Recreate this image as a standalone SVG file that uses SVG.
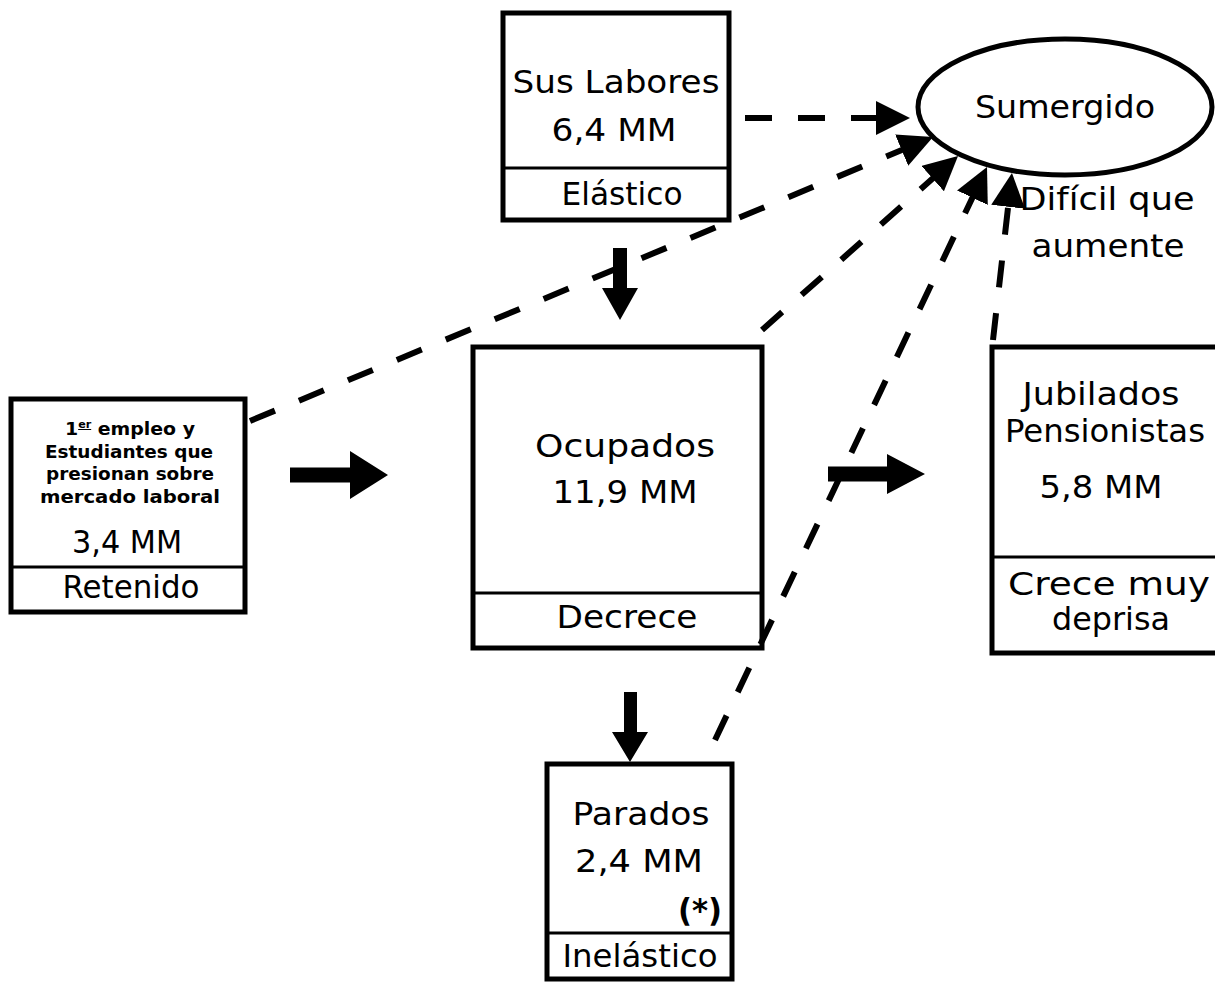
<svg xmlns="http://www.w3.org/2000/svg" width="1215" height="982" viewBox="0 0 1215 982">
<style>
.box{fill:#fff;stroke:#000;stroke-width:5}
.div{stroke:#000;stroke-width:3;fill:none}
.t{font-family:"DejaVu Sans","Liberation Sans",sans-serif;font-size:32px;fill:#000;text-anchor:middle}
.sm{font-family:"DejaVu Sans","Liberation Sans",sans-serif;font-size:17px;font-weight:bold;fill:#000;text-anchor:middle}
.dash{stroke:#000;stroke-width:6;fill:none;stroke-dasharray:27 26}
.solid{fill:#000}
</style>
<defs>
<marker id="ah" markerUnits="userSpaceOnUse" viewBox="0 0 34 34" refX="6" refY="17" markerWidth="34" markerHeight="34" orient="auto">
<path d="M0,0 L34,17 L0,34 z" fill="#000"/>
</marker>
</defs>
<rect width="1215" height="982" fill="#fff"/>

<g id="retenido">
<rect class="box" x="11" y="399" width="234" height="213"/>
<line class="div" x1="11" y1="567" x2="245" y2="567"/>
<text class="sm" x="130" y="435" textLength="130" lengthAdjust="spacingAndGlyphs">1<tspan font-size="10" dy="-7" text-decoration="underline">er</tspan><tspan dy="7"> empleo y</tspan></text>
<text class="sm" x="129" y="458" textLength="168" lengthAdjust="spacingAndGlyphs">Estudiantes que</text>
<text class="sm" x="130" y="480" textLength="168" lengthAdjust="spacingAndGlyphs">presionan sobre</text>
<text class="sm" x="130" y="503" textLength="180" lengthAdjust="spacingAndGlyphs">mercado laboral</text>
<text class="t" x="127" y="553" textLength="110" lengthAdjust="spacingAndGlyphs">3,4 MM</text>
<text class="t" x="131" y="598" font-size="29" textLength="137" lengthAdjust="spacingAndGlyphs">Retenido</text>
</g>

<g id="sus-labores">
<rect class="box" x="503" y="13" width="226" height="207"/>
<line class="div" x1="503" y1="168" x2="729" y2="168"/>
<text class="t" x="616" y="93" textLength="207" lengthAdjust="spacingAndGlyphs">Sus Labores</text>
<text class="t" x="614" y="141" textLength="125" lengthAdjust="spacingAndGlyphs">6,4 MM</text>
<text class="t" x="622" y="205" textLength="121" lengthAdjust="spacingAndGlyphs">Elástico</text>
</g>

<g id="sumergido">
<ellipse cx="1065" cy="107" rx="147" ry="68" fill="#fff" stroke="#000" stroke-width="5"/>
<text class="t" x="1065" y="118" textLength="180" lengthAdjust="spacingAndGlyphs">Sumergido</text>
<text class="t" x="1107" y="210" textLength="175" lengthAdjust="spacingAndGlyphs">Difícil que</text>
<text class="t" x="1108" y="257" textLength="153" lengthAdjust="spacingAndGlyphs">aumente</text>
</g>

<g id="ocupados">
<rect class="box" x="473" y="347" width="289" height="301" stroke-width="4.5"/>
<line class="div" x1="473" y1="593" x2="762" y2="593"/>
<text class="t" x="625" y="457" textLength="180" lengthAdjust="spacingAndGlyphs">Ocupados</text>
<text class="t" x="625" y="503" textLength="145" lengthAdjust="spacingAndGlyphs">11,9 MM</text>
<text class="t" x="627" y="628" textLength="141" lengthAdjust="spacingAndGlyphs">Decrece</text>
</g>

<g id="parados">
<rect class="box" x="547" y="764" width="185" height="215"/>
<line class="div" x1="547" y1="933" x2="732" y2="933"/>
<text class="t" x="641" y="825" textLength="137" lengthAdjust="spacingAndGlyphs">Parados</text>
<text class="t" x="639" y="872" textLength="128" lengthAdjust="spacingAndGlyphs">2,4 MM</text>
<text class="t" x="700" y="921" font-weight="bold" textLength="44" lengthAdjust="spacingAndGlyphs">(*)</text>
<text class="t" x="640" y="967" textLength="155" lengthAdjust="spacingAndGlyphs">Inelástico</text>
</g>

<g id="jubilados">
<rect class="box" x="992" y="347" width="240" height="306"/>
<line class="div" x1="992" y1="557" x2="1215" y2="557"/>
<text class="t" x="1101" y="405" textLength="157" lengthAdjust="spacingAndGlyphs">Jubilados</text>
<text class="t" x="1105" y="442" textLength="200" lengthAdjust="spacingAndGlyphs">Pensionistas</text>
<text class="t" x="1101" y="498" textLength="123" lengthAdjust="spacingAndGlyphs">5,8 MM</text>
<text class="t" x="1109" y="595" textLength="202" lengthAdjust="spacingAndGlyphs">Crece muy</text>
<text class="t" x="1111" y="630" textLength="118" lengthAdjust="spacingAndGlyphs">deprisa</text>
</g>

<g id="connectors">
<line class="dash" x1="745" y1="118" x2="882" y2="118" marker-end="url(#ah)"/>
<line class="dash" x1="250" y1="421" x2="907.2" y2="147.8" marker-end="url(#ah)"/>
<line class="dash" x1="762" y1="330" x2="937.1" y2="174.6" marker-end="url(#ah)"/>
<line class="dash" x1="715" y1="740" x2="975" y2="192.3" marker-end="url(#ah)"/>
<line class="dash" x1="993" y1="340" x2="1008.8" y2="200.8" marker-end="url(#ah)"/>
<polygon class="solid" points="290,467.5 350,467.5 350,451 388,475 350,499 350,482.5 290,482.5"/>
<polygon class="solid" points="828,466.5 887,466.5 887,454 925,474 887,494 887,481.5 828,481.5"/>
<polygon class="solid" points="613,248 627,248 627,288 638,288 620,320 602,288 613,288"/>
<polygon class="solid" points="624,692 637,692 637,732 648,732 630,762 612,732 624,732"/>
</g>
</svg>
